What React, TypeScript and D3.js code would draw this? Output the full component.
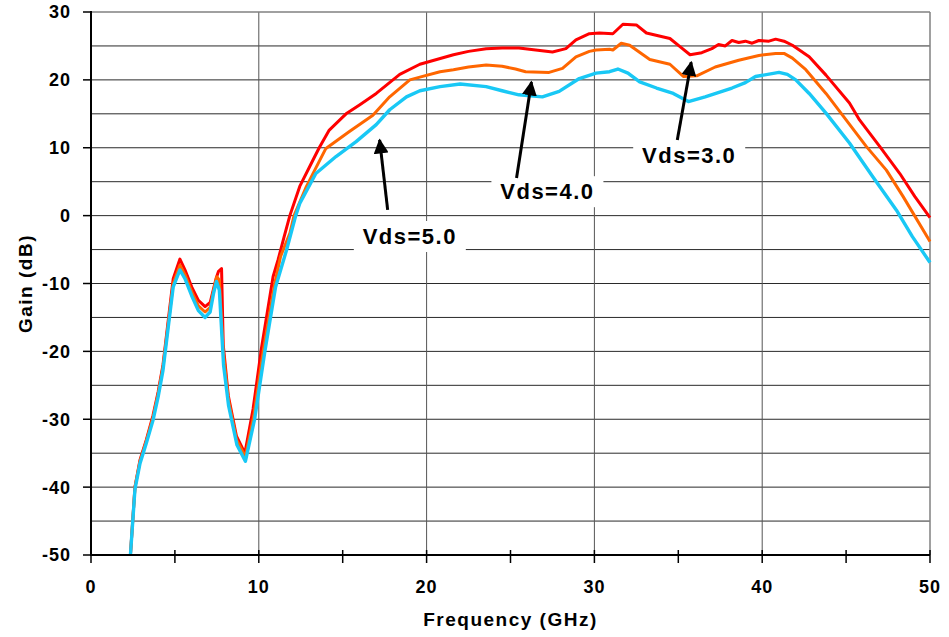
import React from "react";
import * as d3 from "d3";

const xTicks = [0, 10, 20, 30, 40, 50];
const xMinorTicks = [5, 15, 25, 35, 45];
const yTicks = [30, 20, 10, 0, -10, -20, -30, -40, -50];
const yGrid = [25, 20, 15, 10, 5, 0, -5, -10, -15, -20, -25, -30, -35, -40, -45];

const vds5: [number, number][] = [
  [2.35, -50], [2.62, -40], [2.92, -36], [3.3, -33], [3.69, -29.5], [4.0, -26], [4.29, -22], [4.6, -15.5], [4.9, -9.3],
  [5.3, -6.4], [5.6, -8], [6.0, -10.5], [6.4, -12.5], [6.8, -13.4], [7.1, -12.8], [7.45, -9.3], [7.6, -8.2], [7.78, -7.8],
  [7.88, -19], [8.18, -26.5], [8.67, -32.5], [9.17, -35], [9.66, -28.5], [10.16, -19.5], [10.85, -9], [11.15, -6.5],
  [11.5, -3.2], [11.85, 0], [12.44, 4.3], [13.23, 8.2], [13.6, 10], [14.2, 12.6], [15.2, 15.0], [16.0, 16.3], [17.0, 18.0],
  [18.4, 20.8], [19.6, 22.3], [20.6, 23.0], [21.6, 23.7], [22.5, 24.2], [23.55, 24.6], [24.5, 24.7], [25.5, 24.7],
  [26.5, 24.4], [27.5, 24.1], [28.3, 24.6], [28.9, 25.9], [29.7, 26.8], [30.3, 26.9], [31.1, 26.8], [31.7, 28.2],
  [32.5, 28.1], [33.1, 26.9], [33.8, 26.5], [34.5, 26.1], [35.1, 24.9], [35.7, 23.7], [36.4, 24.0], [37.0, 24.6],
  [37.4, 25.2], [37.8, 25.0], [38.2, 25.8], [38.6, 25.5], [39.0, 25.7], [39.4, 25.4], [39.8, 25.8], [40.4, 25.7],
  [40.8, 26.0], [41.3, 25.7], [41.8, 25.1], [42.8, 23.4], [43.8, 20.7], [45.2, 16.6], [45.8, 14.1], [47.0, 10.2],
  [48.2, 6.2], [49.1, 2.8], [50, -0.3],
];

const vds4: [number, number][] = [
  [2.35, -50], [2.62, -40], [2.92, -36.2], [3.3, -33.2], [3.69, -29.8], [4.0, -26.3], [4.29, -22.3], [4.6, -16], [4.9, -10],
  [5.3, -7.3], [5.6, -8.7], [6.0, -11.2], [6.4, -13.3], [6.8, -14.2], [7.1, -13.5], [7.35, -10.5], [7.5, -9.0], [7.65, -9.5],
  [7.88, -20], [8.18, -27], [8.67, -33], [9.2, -35.5], [9.7, -29.5], [10.26, -20], [10.95, -10], [11.3, -6], [11.85, -2.6],
  [12.1, 0], [12.84, 4.3], [13.6, 8.0], [14.0, 9.9], [15.4, 12.4], [16.8, 14.8], [17.8, 17.5], [19.0, 20.0], [19.6, 20.4],
  [20.8, 21.2], [21.6, 21.5], [22.5, 21.9], [23.55, 22.2], [24.5, 22.0], [25.3, 21.6], [25.9, 21.2], [27.3, 21.1],
  [28.1, 21.7], [28.9, 23.4], [29.7, 24.2], [30.1, 24.4], [30.9, 24.5], [31.1, 24.4], [31.6, 25.4], [32.1, 25.1],
  [33.3, 23.0], [34.5, 22.3], [35.3, 20.5], [36.1, 20.6], [37.2, 21.9], [38.6, 22.9], [39.8, 23.6], [40.8, 23.9],
  [41.3, 23.9], [41.8, 23.2], [42.6, 21.5], [43.8, 18.0], [45.0, 14.1], [46.2, 10.2], [47.4, 6.7], [48.4, 2.8], [50, -3.8],
];

const vds3: [number, number][] = [
  [2.35, -50], [2.62, -40.3], [2.92, -36.5], [3.3, -33.5], [3.69, -30.2], [4.0, -26.7], [4.29, -22.8], [4.6, -16.5],
  [4.9, -10.5], [5.3, -8.0], [5.6, -9.3], [6.0, -11.8], [6.4, -14], [6.8, -15], [7.1, -14.2], [7.3, -11.5], [7.48, -9.7],
  [7.65, -11], [7.9, -22], [8.2, -28], [8.7, -33.8], [9.2, -36.2], [9.75, -30], [10.36, -20], [11.0, -10.5], [11.65, -5.1],
  [12.2, 0], [12.44, 1.8], [13.4, 6.2], [14.6, 8.7], [15.8, 10.9], [17.0, 13.4], [17.8, 15.6], [18.8, 17.5], [19.6, 18.4],
  [20.8, 19.0], [22.0, 19.4], [23.55, 19.0], [24.5, 18.4], [25.5, 17.8], [26.9, 17.5], [27.9, 18.3], [29.1, 20.2],
  [30.1, 21.0], [30.9, 21.2], [31.4, 21.6], [32.0, 21.0], [32.7, 19.7], [33.7, 18.8], [34.7, 18.0], [35.6, 16.8],
  [36.6, 17.5], [38.2, 18.8], [39.0, 19.6], [39.6, 20.5], [41.0, 21.1], [41.5, 20.8], [42.0, 20.0], [42.8, 18.0],
  [43.8, 15.1], [45.2, 10.7], [46.6, 5.7], [48.0, 0.8], [48.95, -3.1], [50, -6.9],
];

const seriesNames = ["Vds=5.0", "Vds=4.0", "Vds=3.0"];
const seriesData = [vds5, vds4, vds3];
const seriesColors = ["#ff0000", "#ff6600", "#19c8f5"];

// annotation: label center (x,y) and arrow tail -> tip, in data units
const annLabels = ["Vds=5.0", "Vds=4.0", "Vds=3.0"];
const annLabelPos: [number, number][] = [[19.0, -3.0], [27.2, 3.6], [35.65, 8.9]];
const annArrowTail: [number, number][] = [[17.68, 0.84], [25.36, 5.55], [34.94, 11.15]];
const annArrowTip: [number, number][] = [[17.2, 11.15], [26.25, 19.7], [35.77, 22.6]];

const W = 949;
const H = 637;
const M = { left: 91, right: 19, top: 12, bottom: 82 };

export default function App() {
  const x = d3.scaleLinear().domain([0, 50]).range([M.left, W - M.right]);
  const y = d3.scaleLinear().domain([-50, 30]).range([H - M.bottom, M.top]);
  const line = d3
    .line<[number, number]>()
    .x((d) => x(d[0]))
    .y((d) => y(d[1]));
  const font = "'Liberation Sans', Arial, sans-serif";
  const x0 = x(0), x1 = x(50), y0 = y(-50), y1 = y(30);

  return (
    <svg
      width={W}
      height={H}
      style={{ position: "absolute", left: 0, top: 0, background: "#fff" }}
      fontFamily={font}
    >
      <rect x={0} y={0} width={W} height={H} fill="#fff" />
      {/* horizontal grid */}
      {yGrid.map((v) => (
        <line key={"hg" + v} x1={x0} x2={x1} y1={y(v)} y2={y(v)} stroke="#2a2a2a" strokeWidth={1} />
      ))}
      {/* vertical grid */}
      {xTicks.slice(1, -1).map((v) => (
        <line key={"vg" + v} x1={x(v)} x2={x(v)} y1={y1} y2={y0} stroke="#555" strokeWidth={1} />
      ))}
      {/* border top/right */}
      <line x1={x0} x2={x1} y1={y1} y2={y1} stroke="#808080" strokeWidth={1.5} />
      <line x1={x1} x2={x1} y1={y1} y2={y0} stroke="#808080" strokeWidth={1.5} />

      {/* annotation label boxes (white, hide gridlines) */}
      {annLabels.map((t, i) => (
        <rect
          key={"bx" + i}
          x={x(annLabelPos[i][0]) - 56}
          y={y(annLabelPos[i][1]) - 15}
          width={112}
          height={31}
          fill="#fff"
        />
      ))}

      {/* series */}
      {seriesData.map((d, i) => (
        <path
          key={seriesNames[i]}
          d={line(d) || ""}
          fill="none"
          stroke={seriesColors[i]}
          strokeWidth={i === 2 ? 3.4 : 3}
          strokeLinejoin="round"
        />
      ))}

      {/* axes */}
      <line x1={x0} x2={x0} y1={y1 - 1} y2={y0} stroke="#000" strokeWidth={2} />
      <line x1={x0 - 1} x2={x1} y1={y0} y2={y0} stroke="#000" strokeWidth={2} />
      {yTicks.map((v) => (
        <line key={"yt" + v} x1={x0 - 8} x2={x0} y1={y(v)} y2={y(v)} stroke="#000" strokeWidth={1.5} />
      ))}
      {[...xTicks, ...xMinorTicks].map((v) => (
        <line key={"xt" + v} x1={x(v)} x2={x(v)} y1={y0 - 5} y2={y0 + 8} stroke="#000" strokeWidth={1.5} />
      ))}

      {/* tick labels */}
      {yTicks.map((v) => (
        <text
          key={"yl" + v}
          x={x0 - 20}
          y={y(v)}
          dy="0.36em"
          textAnchor="end"
          fontSize={18}
          fontWeight="bold"
          letterSpacing={1}
        >
          {v}
        </text>
      ))}
      {xTicks.map((v) => (
        <text
          key={"xl" + v}
          x={x(v)}
          y={y0 + 32}
          dy="0.36em"
          textAnchor="middle"
          fontSize={18}
          fontWeight="bold"
          letterSpacing={1}
        >
          {v}
        </text>
      ))}

      {/* axis titles */}
      <text
        x={(x0 + x1) / 2}
        y={619}
        dy="0.36em"
        textAnchor="middle"
        fontSize={19}
        fontWeight="bold"
        letterSpacing={1.5}
      >
        Frequency (GHz)
      </text>
      <text
        transform={`translate(25,${(y0 + y1) / 2}) rotate(-90)`}
        textAnchor="middle"
        dy="0.36em"
        fontSize={19}
        fontWeight="bold"
        letterSpacing={1.5}
      >
        Gain (dB)
      </text>

      {/* annotations */}
      <defs>
        <marker
          id="ah"
          viewBox="0 0 10 10"
          refX={9}
          refY={5}
          markerWidth={5}
          markerHeight={5}
          markerUnits="strokeWidth"
          orient="auto"
        >
          <path d="M0,0 L10,5 L0,10 z" fill="#000" />
        </marker>
      </defs>
      {annLabels.map((t, i) => (
        <g key={"ann" + i}>
          <line
            x1={x(annArrowTail[i][0])}
            y1={y(annArrowTail[i][1])}
            x2={x(annArrowTip[i][0])}
            y2={y(annArrowTip[i][1])}
            stroke="#000"
            strokeWidth={3}
            markerEnd="url(#ah)"
          />
          <text
            x={x(annLabelPos[i][0])}
            y={y(annLabelPos[i][1])}
            dy="0.36em"
            textAnchor="middle"
            fontSize={22}
            fontWeight="bold"
            letterSpacing={1.5}
          >
            {t}
          </text>
        </g>
      ))}
    </svg>
  );
}
